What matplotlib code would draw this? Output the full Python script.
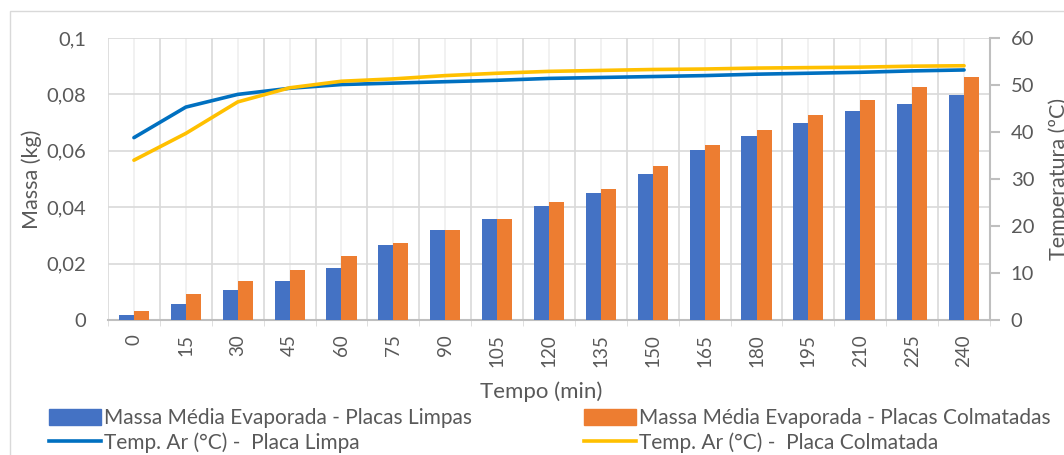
import numpy as np
import matplotlib
matplotlib.use('Agg')
import matplotlib.pyplot as plt
from matplotlib.patches import Patch, Rectangle
from matplotlib.lines import Line2D

# data
tempo = ['0', '15', '30', '45', '60', '75', '90', '105', '120', '135', '150',
         '165', '180', '195', '210', '225', '240']
massa_limpas = [0.0018, 0.0058, 0.0105, 0.0138, 0.0186, 0.0266, 0.0320, 0.0359, 0.0405,
                0.0452, 0.0519, 0.0604, 0.0653, 0.0699, 0.0740, 0.0765, 0.0799]
massa_colmatadas = [0.0032, 0.0091, 0.0138, 0.0179, 0.0227, 0.0272, 0.0320, 0.0359, 0.0419,
                    0.0465, 0.0547, 0.0620, 0.0673, 0.0726, 0.0780, 0.0826, 0.0860]
temp_limpa = [38.8, 45.3, 48.0, 49.3, 50.1, 50.4, 50.7, 51.0, 51.4,
              51.6, 51.8, 52.0, 52.3, 52.5, 52.7, 53.0, 53.2]
temp_colmatada = [34.0, 39.7, 46.4, 49.4, 50.8, 51.3, 52.0, 52.5, 52.9,
                  53.1, 53.3, 53.4, 53.6, 53.7, 53.8, 54.0, 54.1]
massa_ticks = ['0', '0,02', '0,04', '0,06', '0,08', '0,1']

plt.rcParams['font.family'] = ['Lato', 'DejaVu Sans']
txt = '#595959'
W, H = 1064, 455

fig = plt.figure(figsize=(W / 100, H / 100), dpi=100)
fig.patches.append(Rectangle((10 / W, -0.1), 1.2, 1 - 11 / H + 0.1, transform=fig.transFigure,
                             fill=False, edgecolor='#d9d9d9', linewidth=1))

ax = fig.add_axes([108 / W, 1 - 320 / H, (990 - 108) / W, (320 - 38) / H])
x = np.arange(len(tempo))
bw = 0.29
ax.bar(x - bw / 2, massa_limpas, bw, color='#4472C4', zorder=3)
ax.bar(x + bw / 2, massa_colmatadas, bw, color='#ED7D31', zorder=3)

ax.set_xlim(-0.5, len(tempo) - 0.5)
ax.set_ylim(0, 0.1)
ax.set_yticks(np.linspace(0, 0.1, 6))
ax.set_yticklabels(massa_ticks)
ax.set_xticks(x)
ax.set_xticklabels(tempo, rotation=90)
ax.set_xticks(np.arange(-0.5, len(tempo), 1), minor=True)
ax.tick_params(axis='y', length=0, labelsize=14.5, colors=txt, pad=16)
ax.tick_params(axis='x', which='major', length=0, labelsize=13.5, colors=txt, pad=10)
ax.tick_params(axis='x', which='minor', length=4, color='#d9d9d9')
ax.grid(axis='y', color='#d9d9d9', linewidth=1.2, zorder=0)
ax.grid(axis='x', which='minor', color='#d9d9d9', linewidth=1.2, zorder=0)
ax.grid(axis='x', which='major', color='#efefef', linewidth=1.2, zorder=0)
ax.set_axisbelow(True)
for s in ['left', 'top', 'right']:
    ax.spines[s].set_visible(False)
ax.spines['bottom'].set_color('#bfbfbf')
ax.spines['bottom'].set_linewidth(1.5)
ax.set_ylabel('Massa (kg)', fontsize=15.5, color=txt, labelpad=3)

ax2 = ax.twinx()
ax2.plot(x, temp_limpa, color='#0070C0', linewidth=2.6, solid_capstyle='round')
ax2.plot(x, temp_colmatada, color='#FFC000', linewidth=2.6, solid_capstyle='round')
ax2.set_ylim(0, 60)
ax2.set_yticks(np.arange(0, 61, 10))
ax2.tick_params(axis='y', length=7, width=1.5, color='#bfbfbf', labelsize=14.5, colors=txt, pad=8)
ax2.tick_params(axis='y', color='#bfbfbf')
for s in ['left', 'top', 'bottom']:
    ax2.spines[s].set_visible(False)
ax2.spines['right'].set_color('#bfbfbf')
ax2.spines['right'].set_linewidth(1.5)
ax2.set_ylabel('Temperatura (ºC)', fontsize=15.5, color=txt, labelpad=10)

fig.text(541 / W, 1 - 392 / H, 'Tempo (min)', ha='center', va='center', fontsize=16, color=txt)

handles = [Patch(color='#4472C4'), Line2D([], [], color='#0070C0', linewidth=2.6),
           Patch(color='#ED7D31'), Line2D([], [], color='#FFC000', linewidth=2.6)]
labels = ['Massa Média Evaporada - Placas Limpas', 'Temp. Ar (°C) -  Placa Limpa',
          'Massa Média Evaporada - Placas Colmatadas', 'Temp. Ar (°C) -  Placa Colmatada']
fig.legend(handles, labels, ncol=2, loc='upper left', bbox_to_anchor=(49 / W, 1 - 408 / H),
           frameon=False, fontsize=15, labelcolor=txt, borderpad=0, borderaxespad=0,
           handlelength=2.5, handleheight=0.8, handletextpad=0.12, columnspacing=5.4,
           labelspacing=0.2)

fig.savefig('out.png', dpi=100)
